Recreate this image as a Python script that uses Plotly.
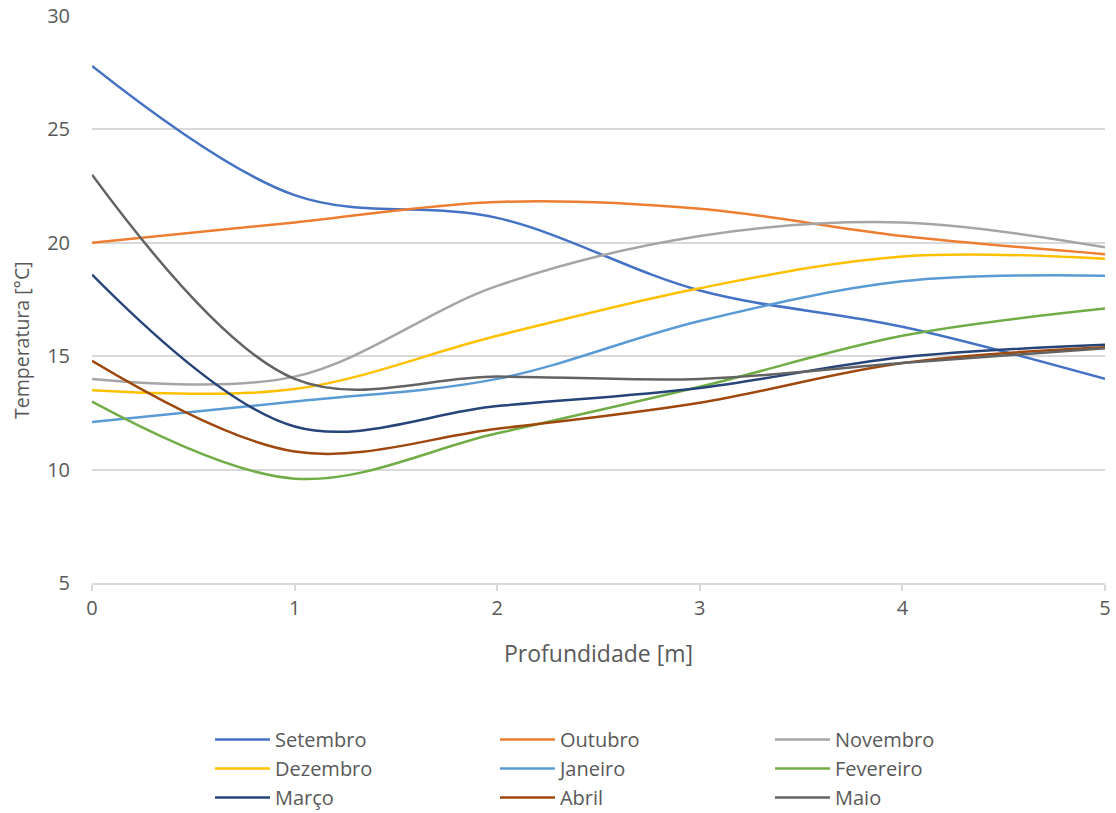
import plotly.graph_objects as go

depth = [0, 1, 2, 3, 4, 5]

setembro = [27.8, 22.1, 21.1, 17.9, 16.3, 14.0]
outubro = [20.0, 20.9, 21.8, 21.5, 20.3, 19.5]
novembro = [14.0, 14.1, 18.1, 20.3, 20.9, 19.8]
dezembro = [13.5, 13.55, 15.9, 18.0, 19.4, 19.3]
janeiro = [12.1, 13.0, 14.0, 16.55, 18.3, 18.55]
fevereiro = [13.0, 9.6, 11.6, 13.65, 15.9, 17.1]
marco = [18.6, 11.9, 12.8, 13.6, 14.95, 15.5]
abril = [14.8, 10.8, 11.8, 12.95, 14.7, 15.4]
maio = [23.0, 14.0, 14.1, 14.0, 14.7, 15.35]

names = ["Setembro", "Outubro", "Novembro", "Dezembro", "Janeiro",
         "Fevereiro", "Março", "Abril", "Maio"]
series = [setembro, outubro, novembro, dezembro, janeiro,
          fevereiro, marco, abril, maio]
colors = ["#4472C4", "#ED7D31", "#A5A5A5", "#FFC000", "#5B9BD5",
          "#70AD47", "#264478", "#9E480E", "#636363"]
legend_cols = ["legend", "legend2", "legend3"]

FONT = "Open Sans"
TXT = "#595959"

fig = go.Figure()
for i, (n, s, c) in enumerate(zip(names, series, colors)):
    fig.add_trace(go.Scatter(
        x=depth, y=s, name=n, mode="lines",
        line=dict(color=c, width=2.5, shape="spline", smoothing=1.0),
        legend=legend_cols[i % 3], legendgroup=n,
    ))

def leg(xfrac):
    return dict(
        orientation="v",
        xref="paper", yref="container",
        x=xfrac, y=1 - 720 / 813, xanchor="left", yanchor="top",
        font=dict(family=FONT, size=20, color=TXT),
        tracegroupgap=0, itemwidth=55, bgcolor="rgba(0,0,0,0)",
    )

fig.update_layout(
    width=1116, height=813,
    margin=dict(l=92, r=11, t=16, b=230),
    paper_bgcolor="white", plot_bgcolor="white",
    font=dict(family=FONT, size=20, color=TXT),
    showlegend=True,
    legend=leg(0.1165), legend2=leg(0.3978), legend3=leg(0.6693),
    xaxis=dict(
        range=[0, 5], tickvals=[0, 1, 2, 3, 4, 5], automargin=False,
        showgrid=False, zeroline=False,
        showline=True, linecolor="#D9D9D9", linewidth=1.5,
        ticks="outside", ticklen=6, tickcolor="#D9D9D9", tickwidth=1.5,
        tickfont=dict(family=FONT, size=20, color=TXT),
        title=dict(text="Profundidade [m]", font=dict(family=FONT, size=23, color=TXT), standoff=26),
    ),
    yaxis=dict(
        range=[5, 30], tickvals=[5, 10, 15, 20, 25, 30], automargin=False,
        showgrid=True, gridcolor="#D9D9D9", gridwidth=1.5,
        zeroline=False, showline=False,
        ticks="", ticklabelstandoff=21,
        tickfont=dict(family=FONT, size=20, color=TXT),
    ),
    annotations=[dict(
        text="Temperatura [°C]", textangle=-90,
        xref="paper", yref="paper", x=-0.0691, y=0.4286,
        xanchor="center", yanchor="middle", showarrow=False,
        font=dict(family=FONT, size=19.5, color=TXT),
    )],
)

fig.write_html("out.html")
